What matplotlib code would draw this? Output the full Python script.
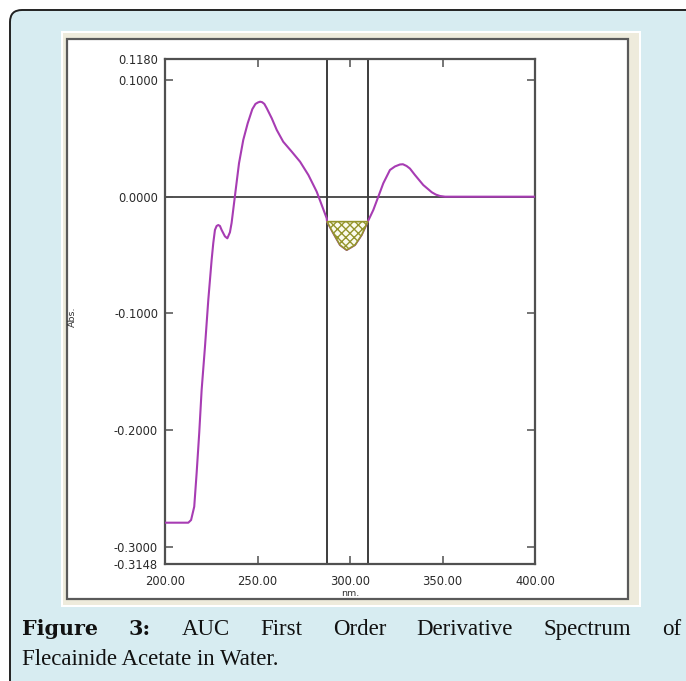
import matplotlib
matplotlib.use("Agg")
import matplotlib.pyplot as plt
import numpy as np
from matplotlib.patches import FancyBboxPatch, Rectangle

# ── data ──────────────────────────────────────────────────────────────────────

wavelength = [200.0, 212.6, 214.1, 215.8, 217.1, 218.5, 219.8, 221.6, 223.4,
              225.2, 226.1, 227.0, 227.9, 228.8, 229.7, 230.6, 232.4, 233.7,
              235.1, 236.0, 236.9, 238.2, 240.0, 242.3, 244.7, 247.2, 248.9,
              250.3, 251.4, 252.5, 253.7, 255.0, 257.7, 260.4, 263.9, 268.5,
              273.0, 277.5, 282.0, 284.7, 287.4, 287.6, 291.0, 294.6, 298.2,
              302.7, 306.3, 309.6, 312.6, 315.3, 318.0, 321.6, 324.3, 327.0,
              328.6, 330.6, 332.4, 335.1, 339.6, 344.2, 346.4, 348.6, 351.4,
              400.0]
absorbance = [-0.2794, -0.2794, -0.2771, -0.2657, -0.2368, -0.2025, -0.1657,
              -0.1288, -0.0885, -0.0543, -0.0397, -0.0285, -0.0251, -0.0243,
              -0.0251, -0.0285, -0.0340, -0.0357, -0.0305, -0.0225, -0.0110,
              0.0057, 0.0286, 0.0486, 0.0629, 0.0750, 0.0795, 0.0808, 0.0814,
              0.0810, 0.0795, 0.0758, 0.0672, 0.0572, 0.0471, 0.0386, 0.0300,
              0.0186, 0.0043, -0.0071, -0.0185, -0.0214, -0.0314, -0.0414,
              -0.0457, -0.0414, -0.0328, -0.0214, -0.0114, 0.0000, 0.0115,
              0.0229, 0.0259, 0.0276, 0.0278, 0.0263, 0.0241, 0.0186, 0.0100,
              0.0038, 0.0018, 0.0006, 0.0000, 0.0000]

auc_start, auc_end = 287.6, 309.6

x_ticks = [200, 250, 300, 350, 400]
y_ticks = [0.1, 0.0, -0.1, -0.2, -0.3]
y_top, y_bottom = 0.1180, -0.3148

caption_line1 = [("Figure", "bold"), ("3:", "bold"), ("AUC", "normal"),
                 ("First", "normal"), ("Order", "normal"),
                 ("Derivative", "normal"), ("Spectrum", "normal"),
                 ("of", "normal")]
caption_line2 = "Flecainide Acetate in Water."

# ── styling ───────────────────────────────────────────────────────────────────

W, H = 686, 681
PURPLE = "#a73cb3"
OLIVE = "#94942c"
GREY = "#505050"
plt.rcParams["hatch.linewidth"] = 1.0

fig = plt.figure(figsize=(W / 100, H / 100), dpi=100)
fig.patch.set_facecolor("white")

# page furniture in pixel coordinates
bg = fig.add_axes([0, 0, 1, 1], zorder=0)
bg.set_xlim(0, W)
bg.set_ylim(H, 0)
bg.axis("off")
bg.add_patch(FancyBboxPatch((10, 10), 720, 720,
                            boxstyle="round,pad=0,rounding_size=12",
                            facecolor="#d7ecf1", edgecolor="#222222", lw=1.4))
bg.add_patch(Rectangle((61, 31), 580, 576, facecolor="white", edgecolor="none"))
bg.add_patch(Rectangle((63, 33), 576, 572, facecolor="#eeebdc", edgecolor="none"))
bg.add_patch(Rectangle((67, 39), 561, 560, facecolor="white",
                       edgecolor="#5a5a5a", lw=1.6))

# ── spectrum axes ─────────────────────────────────────────────────────────────

ax_l, ax_r, ax_t, ax_b = 165, 535, 59, 564
ax = fig.add_axes([ax_l / W, (H - ax_b) / H, (ax_r - ax_l) / W, (ax_b - ax_t) / H],
                  zorder=2)
ax.set_facecolor("white")

ax.axhline(0, color=GREY, lw=1.4, zorder=2)
ax.axvline(auc_start, color="#3c3c3c", lw=1.4, zorder=2)
ax.axvline(auc_end, color="#3c3c3c", lw=1.4, zorder=2)
ax.plot(wavelength, absorbance, color=PURPLE, lw=1.5, zorder=3,
        solid_joinstyle="round")

wl = np.array(wavelength)
ab = np.array(absorbance)
sel = (wl >= auc_start) & (wl <= auc_end)
chord = np.interp([auc_start, auc_end], wl, ab)
ax.fill_between(wl[sel], ab[sel], np.interp(wl[sel], [auc_start, auc_end], chord),
                facecolor="#fbfbee", edgecolor=OLIVE, hatch="xxxx", lw=1.2,
                zorder=4)

ax.set_xlim(x_ticks[0], x_ticks[-1])
ax.set_ylim(y_bottom, y_top)

ax.set_xticks(x_ticks)
ax.set_xticklabels([f"{v:.2f}" for v in x_ticks])
ax.set_yticks(y_ticks)
ax.set_yticklabels([f"{v:.4f}" for v in y_ticks])
ax.set_yticks([y_top, y_bottom], minor=True)
ax.set_yticklabels([f"{y_top:.4f}", f"{y_bottom:.4f}"], minor=True)

ax.tick_params(which="major", direction="in", length=6, width=1.1, color=GREY,
               top=True, right=True, labelsize=8.3, labelcolor="#2a2a2a")
ax.tick_params(which="minor", length=0, labelsize=8.3, labelcolor="#2a2a2a")
ax.tick_params(axis="y", which="both", pad=5)
ax.tick_params(axis="x", which="both", pad=8)

for sp in ax.spines.values():
    sp.set_color(GREY)
    sp.set_linewidth(1.6)

ax.set_xlabel("nm.", fontsize=6.8, color="#333333", labelpad=1)
ax.set_ylabel("Abs.", fontsize=6.8, color="#333333")
ax.yaxis.set_label_coords((77 - ax_l) / (ax_r - ax_l), 0.49)

# ── caption (justified first line) ────────────────────────────────────────────

renderer = fig.canvas.get_renderer()
cap_font = "Liberation Serif"
probe = bg.text(0, 0, caption_line2, fontsize=16, family=cap_font)
width2 = probe.get_window_extent(renderer).width
probe.remove()
cap_size = 16 * 258 / width2

x0, x1, base1, base2 = 22, 681, 635, 665
words = []
for w, wt in caption_line1:
    if wt == "bold":
        t = bg.text(0, base1, w, fontsize=cap_size * 0.9, family="DejaVu Serif",
                    weight="bold", va="baseline", color="#111111")
    else:
        t = bg.text(0, base1, w, fontsize=cap_size, family=cap_font,
                    va="baseline", color="#111111")
    words.append(t)
widths = [t.get_window_extent(renderer).width for t in words]
gap = (x1 - x0 - sum(widths)) / (len(words) - 1)
x = x0
for t, w in zip(words, widths):
    t.set_x(x)
    x += w + gap

bg.text(x0, base2, caption_line2, fontsize=cap_size, family=cap_font,
        va="baseline", color="#111111")

fig.savefig("out.png", dpi=100)
